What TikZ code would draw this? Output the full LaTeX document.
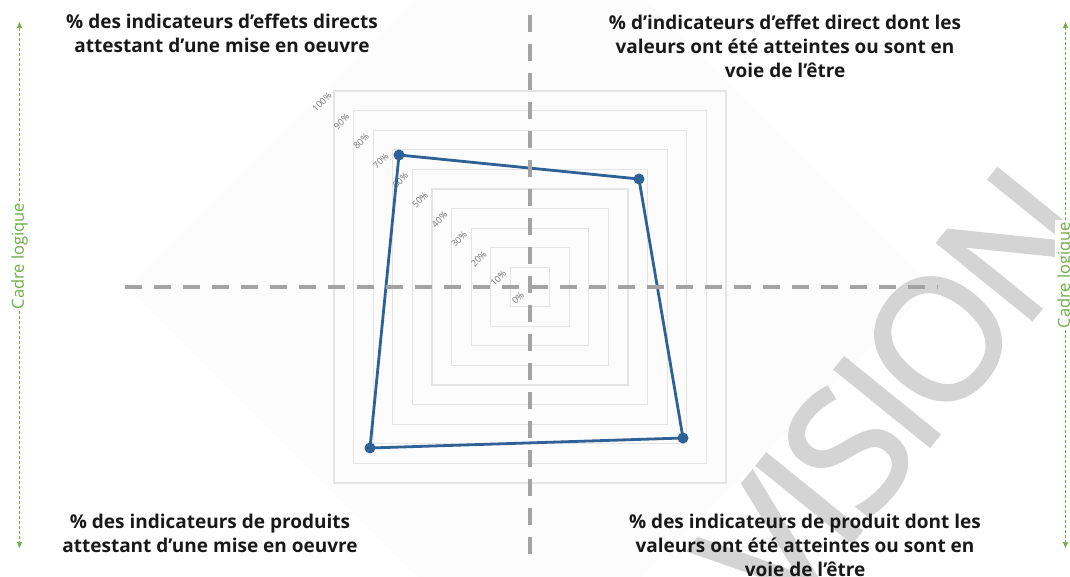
\documentclass[tikz,border=0pt]{standalone}
\usepackage{fontspec}
\setmainfont{Open Sans}
\newfontfamily\filigranefont[FakeBold=2,LetterSpace=-5]{Open Sans}
\usepackage{xcolor}
\usetikzlibrary{positioning,arrows.meta}
\definecolor{radarblue}{HTML}{2E6195}
\definecolor{axisgray}{HTML}{A3A3A3}
\definecolor{gridgray}{HTML}{E4E4E4}
\definecolor{cadregreen}{HTML}{70AD47}
\definecolor{markgray}{HTML}{D4D4D4}

\begin{document}
\begin{tikzpicture}[x=1pt,y=1pt,
    gridsq/.style={draw=gridgray,line width=1.3pt},
    ticklbl/.style={text=black!55,font=\fontsize{9}{10}\selectfont,rotate=45,inner sep=0pt},
    axisline/.style={draw=axisgray,line width=3.5pt,dash pattern=on 17pt off 12pt},
    datapt/.style={circle,fill=radarblue,inner sep=0pt,minimum size=11pt},
    dataline/.style={draw=radarblue,line width=2.8pt,line join=round},
    quad/.style={font=\bfseries\fontsize{19}{24}\selectfont,align=center,text=black!90},
    cadre/.style={text=cadregreen,font=\fontsize{16.5}{18}\selectfont,rotate=90,fill=white,inner sep=2pt},
    cadrearrow/.style={draw=cadregreen,densely dashed,line width=0.7pt,-{Triangle[length=6pt,width=5pt]}}]
    \useasboundingbox (-530,-290) rectangle (540,287);
    \clip (-530,-290) rectangle (540,287);
    \fill[black!1] (-402,0) -- (0,402) -- (402,0) -- (0,-402) -- cycle;
    \node[text=markgray,font=\filigranefont\fontsize{170}{170}\selectfont,rotate=51,anchor=base west,inner sep=0pt] (filigrane) at (253,-340) {VISION};
    \foreach \k in {1,...,10}
      \draw[gridsq] (-19.6*\k,-19.6*\k) rectangle (19.6*\k,19.6*\k);
    \foreach \k in {0,...,10}{
      \pgfmathtruncatemacro\pc{10*\k}
      \node[ticklbl] (tk\k) at (-12-19.6*\k,-11+19.6*\k) {\pc\%};}
    \node[datapt] (pEffMO) at (-131,132) {};
    \node[datapt] (pEffAtt) at (109,108) {};
    \node[datapt] (pProdAtt) at (153,-151) {};
    \node[datapt] (pProdMO) at (-160,-161) {};
    \draw[dataline] (pEffMO.center) -- (pEffAtt.center) -- (pProdAtt.center) -- (pProdMO.center) -- cycle;
    \coordinate (axN) at (0,272);
    \coordinate (axS) at (0,-268);
    \coordinate (axW) at (-405,0);
    \coordinate (axE) at (408,0);
    \draw[axisline] (axN) -- (axS);
    \draw[axisline] (axW) -- (axE);
    \node[quad] (effetsMO) at (-308,254) {\% des indicateurs d’effets directs\\attestant d’une mise en oeuvre};
    \node[quad] (effetsAtt) at (255,241) {\% d’indicateurs d’effet direct dont les\\valeurs ont été atteintes ou sont en\\voie de l’être};
    \node[quad] (produitsMO) at (-320,-246) {\% des indicateurs de produits\\attestant d’une mise en oeuvre};
    \node[quad] (produitsAtt) at (275,-258) {\% des indicateurs de produit dont les\\valeurs ont été atteintes ou sont en\\voie de l’être};
    \node[cadre] (cadreG) at (-510.5,31) {Cadre logique};
    \coordinate (cadreGhaut) at (-510.5,265);
    \coordinate (cadreGbas) at (-510.5,-261);
    \draw[cadrearrow] (cadreG) -- (cadreGhaut);
    \draw[cadrearrow] (cadreG) -- (cadreGbas);
    \node[cadre] (cadreD) at (535.5,12) {Cadre logique};
    \coordinate (cadreDhaut) at (535.5,265);
    \coordinate (cadreDbas) at (535.5,-261);
    \draw[cadrearrow] (cadreD) -- (cadreDhaut);
    \draw[cadrearrow] (cadreD) -- (cadreDbas);
\end{tikzpicture}
\end{document}
